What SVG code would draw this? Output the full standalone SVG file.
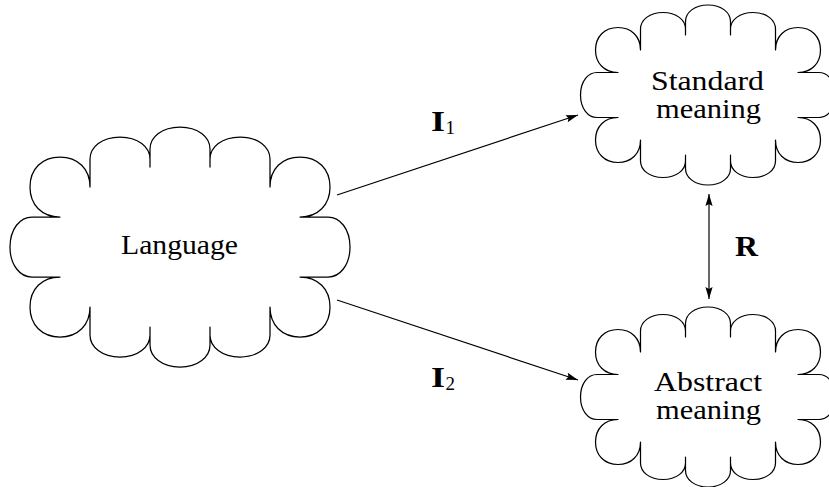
<svg xmlns="http://www.w3.org/2000/svg" xmlns:xlink="http://www.w3.org/1999/xlink" width="829" height="487" viewBox="0 0 829 487">
  <style>
    .cloud { fill: #ffffff; stroke: #000000; stroke-linejoin: round; }
    .label { font-family: "Liberation Serif", "Times New Roman", serif; font-size: 27px; fill: #000000; text-anchor: middle; }
    .math { font-family: "Liberation Serif", "Times New Roman", serif; font-weight: bold; font-size: 29px; fill: #000000; }
    .sub { font-family: "Liberation Serif", "Times New Roman", serif; font-size: 19px; fill: #000000; }
    .edge { fill: none; stroke: #000000; stroke-width: 1.2; }
  </style>
  <defs>
    <!-- cloud outline centred on the origin: corner lobes, arched top/bottom lobes, side lobes -->
    <path id="cloud-shape" d="M -120,-30
      C -138,-30 -150,-42 -150,-60 C -150,-78 -138,-90 -120,-90 C -102,-90 -90,-78 -90,-60
      L -90,-88 C -90,-100 -78,-110 -60,-110 C -42,-110 -30,-100 -30,-88 L -30,-80
      L -30,-98 C -30,-110 -18,-120 0,-120 C 18,-120 30,-110 30,-98 L 30,-80
      L 30,-88 C 30,-100 42,-110 60,-110 C 78,-110 90,-100 90,-88 L 90,-60
      C 90,-78 102,-90 120,-90 C 138,-90 150,-78 150,-60 C 150,-42 138,-30 120,-30
      L 148,-30 C 160,-30 170,-18 170,0 C 170,18 160,30 148,30 L 120,30
      C 138,30 150,42 150,60 C 150,78 138,90 120,90 C 102,90 90,78 90,60
      L 90,88 C 90,100 78,110 60,110 C 42,110 30,100 30,88 L 30,80
      L 30,98 C 30,110 18,120 0,120 C -18,120 -30,110 -30,98 L -30,80
      L -30,88 C -30,100 -42,110 -60,110 C -78,110 -90,100 -90,88 L -90,60
      C -90,78 -102,90 -120,90 C -138,90 -150,78 -150,60 C -150,42 -138,30 -120,30
      L -148,30 C -160,30 -170,18 -170,0 C -170,-18 -160,-30 -148,-30 Z"/>
    <marker id="head" viewBox="-13 -5 14 10" refX="0" refY="0" markerWidth="14" markerHeight="10" markerUnits="userSpaceOnUse" orient="auto-start-reverse">
      <path d="M 0,0 L -12,-3.6 L -10,0 L -12,3.6 Z" fill="#000000"/>
    </marker>
  </defs>

  <g id="language">
    <use xlink:href="#cloud-shape" class="cloud" stroke-width="1.25" transform="translate(180,247)"/>
    <text class="label" x="179.5" y="254" textLength="117" lengthAdjust="spacingAndGlyphs">Language</text>
  </g>

  <g id="standard-meaning">
    <use xlink:href="#cloud-shape" class="cloud" stroke-width="1.65" transform="translate(708,95) scale(0.75)"/>
    <text class="label" x="707.5" y="90" textLength="113" lengthAdjust="spacingAndGlyphs">Standard</text>
    <text class="label" x="708.5" y="118" textLength="105" lengthAdjust="spacingAndGlyphs">meaning</text>
  </g>

  <g id="abstract-meaning">
    <use xlink:href="#cloud-shape" class="cloud" stroke-width="1.65" transform="translate(708,397) scale(0.75)"/>
    <text class="label" x="708" y="391" textLength="108" lengthAdjust="spacingAndGlyphs">Abstract</text>
    <text class="label" x="708.5" y="419" textLength="105" lengthAdjust="spacingAndGlyphs">meaning</text>
  </g>

  <g id="connectors">
    <line class="edge" x1="337" y1="195" x2="578" y2="115" marker-end="url(#head)"/>
    <line class="edge" x1="337" y1="300" x2="578" y2="380" marker-end="url(#head)"/>
    <line class="edge" x1="709" y1="194" x2="709" y2="299" marker-start="url(#head)" marker-end="url(#head)"/>
  </g>

  <g id="labels">
    <text x="431" y="131"><tspan class="math" textLength="14" lengthAdjust="spacingAndGlyphs">I</tspan><tspan class="sub" x="445.5" y="134">1</tspan></text>
    <text x="431" y="387"><tspan class="math" textLength="14" lengthAdjust="spacingAndGlyphs">I</tspan><tspan class="sub" x="445.5" y="390">2</tspan></text>
    <text class="math" x="735" y="256" textLength="23" lengthAdjust="spacingAndGlyphs">R</text>
  </g>
</svg>
